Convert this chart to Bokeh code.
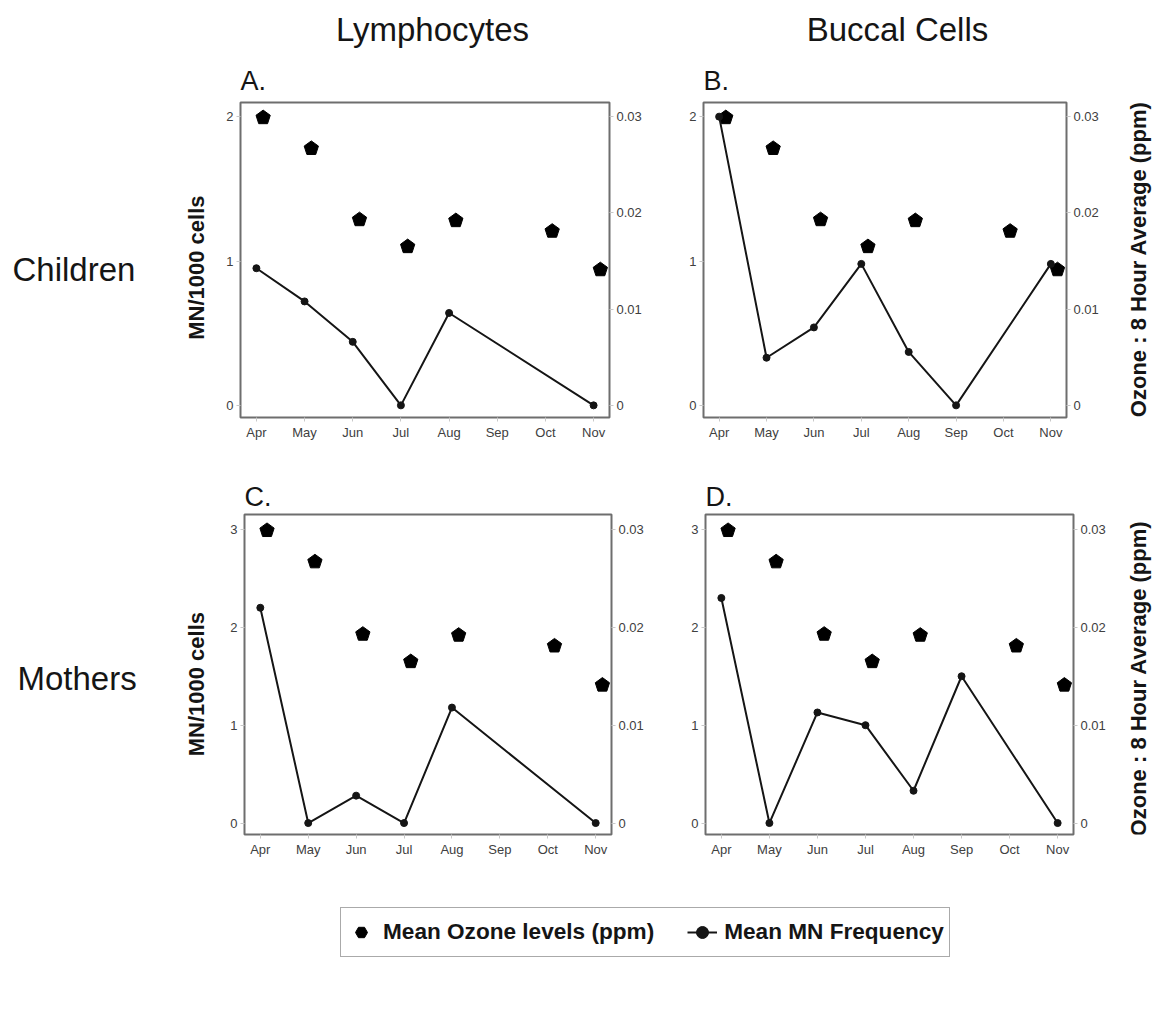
import numpy as np
from bokeh.plotting import figure
from bokeh.models import (Range1d, LinearAxis, FixedTicker, CustomJSTickFormatter,
                          Legend, LegendItem, ColumnDataSource)
from bokeh.layouts import column, row
from bokeh.transform import dodge
from bokeh.core.properties import value
from bokeh.embed import file_html
from bokeh.resources import INLINE

# ---------------- data ----------------
months = ["Apr", "May", "Jun", "Jul", "Aug", "Sep", "Oct", "Nov"]
ozone_ppm = [0.0299, 0.0267, 0.0193, 0.0165, 0.0192, None, 0.0181, 0.0141]
mn_children_lymph = [0.95, 0.72, 0.44, 0.0, 0.64, None, None, 0.0]
mn_children_buccal = [2.0, 0.33, 0.54, 0.98, 0.37, 0.0, None, 0.98]
mn_mothers_lymph = [2.2, 0.0, 0.28, 0.0, 1.18, None, None, 0.0]
mn_mothers_buccal = [2.3, 0.0, 1.13, 1.0, 0.33, 1.5, None, 0.0]
mn_ticks_children = [0, 1, 2]
mn_ticks_mothers = [0, 1, 2, 3]
ozone_ticks = [0, 0.01, 0.02, 0.03]
column_titles = ["Lymphocytes", "Buccal Cells"]
row_titles = ["Children", "Mothers"]
panel_letters = ["A.", "B.", "C.", "D."]
left_label = "MN/1000 cells"
right_label = "Ozone : 8 Hour Average (ppm)"
legend_labels = ["Mean Ozone levels (ppm)", "Mean MN Frequency"]

FONT = "Liberation Sans"
INK = "#151515"


def present(vals):
    xs = [i for i, v in enumerate(vals) if v is not None]
    ys = [v for v in vals if v is not None]
    return xs, ys


def panel(letter, mn, mn_ticks, ylo, yhi, bl, fw, br, bt, fh, bb, title_standoff):
    p = figure(frame_width=fw, frame_height=fh,
               min_border_left=bl, min_border_right=br,
               min_border_top=bt, min_border_bottom=bb,
               x_range=Range1d(-0.33, 7.33), y_range=Range1d(ylo, yhi),
               toolbar_location=None, tools="", output_backend="svg")
    scale = ozone_ticks[-1] / mn_ticks[-1]
    p.extra_y_ranges = {"oz": Range1d(ylo * scale, yhi * scale)}
    p.grid.visible = False
    p.outline_line_color = "#6e6e6e"
    p.outline_line_width = 2
    p.background_fill_color = "white"
    p.border_fill_color = "white"

    p.title.text = letter
    p.title.text_font = FONT
    p.title.text_font_size = "27px"
    p.title.text_font_style = "normal"
    p.title.text_color = INK
    p.title.align = "left"
    p.title.standoff = title_standoff

    p.xaxis.ticker = FixedTicker(ticks=list(range(len(months))))
    p.xaxis.major_label_overrides = {i: m for i, m in enumerate(months)}
    p.yaxis.ticker = FixedTicker(ticks=mn_ticks)
    ax_r = LinearAxis(y_range_name="oz", ticker=FixedTicker(ticks=ozone_ticks),
                      formatter=CustomJSTickFormatter(code="return tick == 0 ? '0' : tick.toFixed(2);"))
    p.add_layout(ax_r, "right")

    for ax in p.axis:
        ax.axis_line_color = None
        ax.major_tick_line_color = "#c8c8c8"
        ax.major_tick_out = 4
        ax.major_tick_in = 0
        ax.minor_tick_line_color = None
        ax.major_label_text_font = FONT
        ax.major_label_text_font_size = "13px"
        ax.major_label_text_color = "#404040"
        ax.major_label_standoff = 3

    # ozone (pentagons) on right axis
    ox, oy = present(ozone_ppm)
    oz_src = ColumnDataSource(dict(x=ox, y=oy))
    try:
        p.ngon(x=dodge("x", 0.14), y="y", radius=7.5, radius_units="screen", n=5,
               angle=0, fill_color="black", line_color="black",
               y_range_name="oz", source=oz_src)
    except Exception:
        p.scatter(x=dodge("x", 0.14), y="y", marker="hex", size=14,
                  fill_color="black", line_color="black", y_range_name="oz", source=oz_src)

    # MN frequency line + dots
    mx, my = present(mn)
    p.line(mx, my, line_color=INK, line_width=2)
    p.scatter(mx, my, marker="circle", size=7, fill_color=INK, line_color=INK)
    return p


def text_fig(w, h):
    f = figure(width=w, height=h, min_border=0, x_range=Range1d(0, w), y_range=Range1d(h, 0),
               x_axis_location=None, y_axis_location=None, title_location=None,
               toolbar_location=None, tools="", output_backend="svg")
    f.grid.visible = False
    f.outline_line_color = None
    return f


def add_text(f, xs, ys, texts, size, align, style="normal", angle=0.0, baseline="alphabetic"):
    f.text(x=xs, y=ys, text=texts, text_font=value(FONT), text_font_size=size,
           text_font_style=style, angle=angle,
           text_align=align, text_baseline=baseline, text_color=INK)


header = text_fig(1156, 56)
add_text(header, [432, 897], [29, 29], column_titles, "33px", "center")

lab1 = text_fig(208, 414)
add_text(lab1, [12], [219], [row_titles[0]], "33px", "left")
add_text(lab1, [196], [217], [left_label], "22px", "center", "bold", np.pi / 2, "middle")
lab2 = text_fig(208, 400)
add_text(lab2, [17], [205], [row_titles[1]], "33px", "left")
add_text(lab2, [196], [212], [left_label], "22px", "center", "bold", np.pi / 2, "middle")

rlab1 = text_fig(46, 414)
add_text(rlab1, [28], [206], [right_label], "22px", "center", "bold", np.pi / 2, "middle")
rlab2 = text_fig(46, 400)
add_text(rlab2, [28], [205], [right_label], "22px", "center", "bold", np.pi / 2, "middle")

pA = panel(panel_letters[0], mn_children_lymph, mn_ticks_children, -0.084, 2.098,
           32, 369, 61, 46, 315, 53, 13)
pB = panel(panel_letters[1], mn_children_buccal, mn_ticks_children, -0.084, 2.098,
           33, 363, 44, 46, 315, 53, 13)
pC = panel(panel_letters[2], mn_mothers_lymph, mn_ticks_mothers, -0.117, 3.153,
           36, 367, 59, 44, 320, 36, 5)
pD = panel(panel_letters[3], mn_mothers_buccal, mn_ticks_mothers, -0.117, 3.153,
           35, 368, 37, 44, 320, 36, 5)

# legend strip
lf = figure(width=1156, height=140, min_border=0, x_range=Range1d(0, 1156), y_range=Range1d(0, 140),
            x_axis_location=None, y_axis_location=None, title_location=None,
            toolbar_location=None, tools="", output_backend="svg")
lf.grid.visible = False
lf.outline_line_color = None
nan = [float("nan")]
r_oz = lf.scatter(x=nan, y=nan, marker="hex", size=9, fill_color="black", line_color="black")
r_ln = lf.line(x=nan, y=nan, line_color=INK, line_width=2)
r_pt = lf.scatter(x=nan, y=nan, marker="circle", size=7, fill_color=INK, line_color=INK)
leg = Legend(items=[LegendItem(label=legend_labels[0], renderers=[r_oz]),
                    LegendItem(label=legend_labels[1], renderers=[r_ln, r_pt])],
             location=(340, 53), orientation="horizontal",
             label_text_font=FONT, label_text_font_size="22.6px", label_text_font_style="bold",
             label_text_color=INK, border_line_color="#555555", border_line_width=1.5,
             padding=5, spacing=33, glyph_width=30, glyph_height=38, label_standoff=7,
             margin=0)
lf.add_layout(leg)

layout = column(header, row(lab1, pA, pB, rlab1), row(lab2, pC, pD, rlab2), lf)

open("out.html", "w").write(file_html(layout, INLINE))
